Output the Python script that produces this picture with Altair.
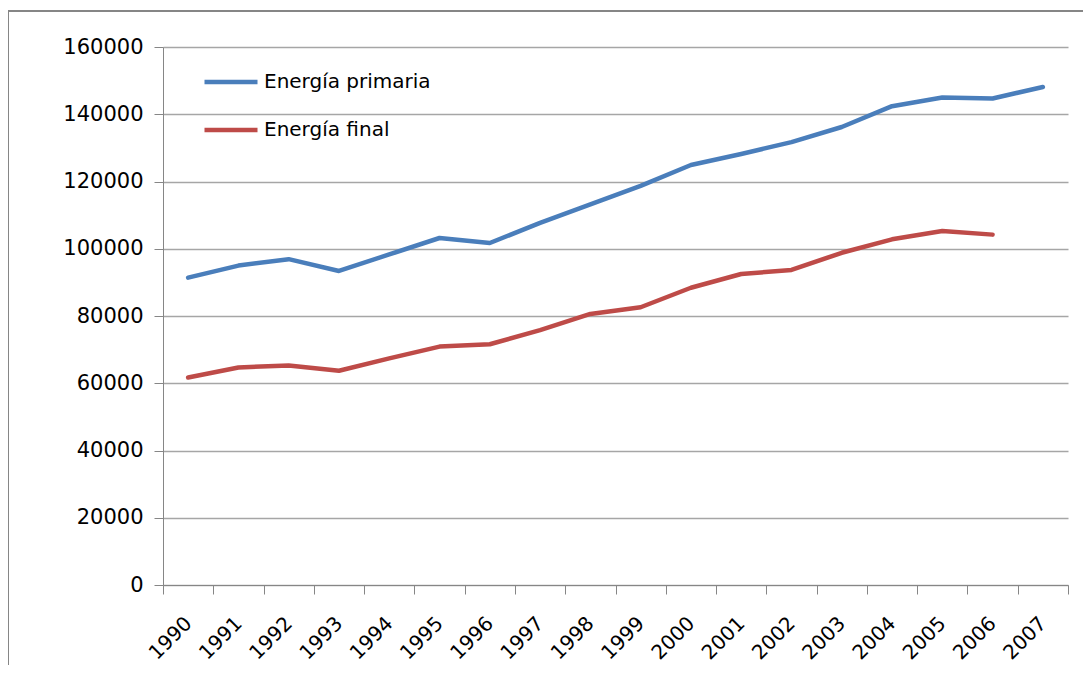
import altair as alt
import pandas as pd

years = [str(y) for y in range(1990, 2008)]
primaria = [91400, 95000, 96900, 93400, 98300, 103200, 101700, 107700, 113200,
            118700, 124900, 128200, 131700, 136200, 142400, 145000, 144700, 148100]
final = [61700, 64700, 65300, 63700, 67400, 70900, 71600, 75800, 80600,
         82600, 88400, 92500, 93700, 98800, 102800, 105300, 104200, None]
series_names = ["Energía primaria", "Energía final"]
colors = ["#4A7EBB", "#BE4B48"]
y_ticks = [0, 20000, 40000, 60000, 80000, 100000, 120000, 140000, 160000]

rows = []
for i, yr in enumerate(years):
    rows.append({"year": yr, "serie": series_names[0], "value": primaria[i]})
    if final[i] is not None:
        rows.append({"year": yr, "serie": series_names[1], "value": final[i]})
df = pd.DataFrame(rows)

W, H = 905, 538
FONT = "DejaVu Sans"

lines = alt.Chart(df).mark_line(strokeWidth=4.5, strokeCap="round", strokeJoin="round").encode(
    x=alt.X("year:O", sort=years,
            scale=alt.Scale(type="band", paddingInner=0, paddingOuter=0),
            axis=alt.Axis(title=None, tickBand="extent", labelAngle=-45, labelAlign="right",
                          labelBaseline="middle", tickSize=9, labelPadding=26,
                          labelFontSize=20, labelFont=FONT, labelColor="#000000",
                          domainColor="#868686", tickColor="#868686", grid=False)),
    y=alt.Y("value:Q", scale=alt.Scale(domain=[0, 160000], nice=False),
            axis=alt.Axis(title=None, values=y_ticks, format="d", tickSize=9, labelPadding=11,
                          labelFontSize=21, labelFont=FONT, labelColor="#000000",
                          domainColor="#868686", tickColor="#868686",
                          gridColor="#A6A6A6", gridWidth=1.3)),
    color=alt.Color("serie:N", sort=series_names,
                    scale=alt.Scale(domain=series_names, range=colors),
                    legend=alt.Legend(title=None, orient="none", legendX=39, legendY=6,
                                      symbolType="stroke", symbolSize=2809, symbolStrokeWidth=4.5,
                                      labelFontSize=20, labelFont=FONT, labelColor="#000000",
                                      labelOffset=4, rowPadding=9, labelLimit=0)),
)

frame = alt.Chart(pd.DataFrame({"k": [0]})).mark_rect(
    fill=None, stroke="#868686", strokeWidth=2
).encode(x=alt.value(-155), x2=alt.value(960), y=alt.value(-36), y2=alt.value(700))

chart = alt.layer(frame, lines).properties(
    width=W, height=H,
    autosize=alt.AutoSizeParams(type="none"),
    padding={"left": 155, "top": 39, "right": 15, "bottom": 80},
).configure_view(stroke=None)

chart.save("out.html", embed_options={"renderer": "svg", "actions": False})
